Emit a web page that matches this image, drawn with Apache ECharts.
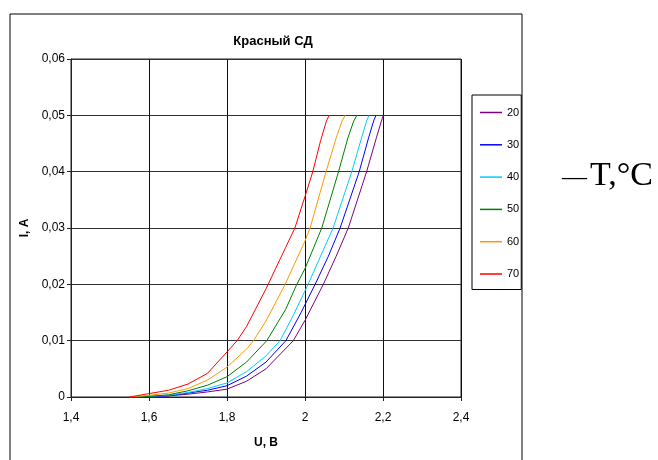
<!DOCTYPE html>
<html>
<head>
<meta charset="utf-8">
<script src="https://cdn.jsdelivr.net/npm/echarts@6/dist/echarts.min.js"></script>
<style>
  html, body { margin: 0; padding: 0; background: #fff; }
  #chart { width: 658px; height: 460px; }
</style>
</head>
<body>
<div id="chart"></div>
<script>
// температуры (легенда)
const temps = ['20', '30', '40', '50', '60', '70'];
const colors = ['#800080', '#0000FF', '#00CCFF', '#008000', '#FF9900', '#FF0000'];

// ВАХ, [U, I]
const iv20 = [[1.55, 0], [1.6, 0.0001], [1.65, 0.0002], [1.7, 0.0005], [1.75, 0.0009], [1.8, 0.0014], [1.85, 0.0028], [1.9, 0.0050], [1.97, 0.010], [2.0, 0.0136], [2.047, 0.020], [2.08, 0.025], [2.111, 0.030], [2.158, 0.040], [2.183, 0.046], [2.196, 0.049], [2.201, 0.050]];
const iv30 = [[1.55, 0], [1.6, 0.0001], [1.65, 0.0002], [1.7, 0.0007], [1.75, 0.0012], [1.8, 0.0020], [1.85, 0.0037], [1.9, 0.0062], [1.951, 0.010], [1.99, 0.0150], [2.026, 0.020], [2.06, 0.025], [2.09, 0.030], [2.139, 0.040], [2.163, 0.046], [2.176, 0.049], [2.182, 0.050]];
const iv40 = [[1.55, 0], [1.6, 0.0001], [1.65, 0.0003], [1.7, 0.0008], [1.75, 0.0015], [1.8, 0.0025], [1.85, 0.0045], [1.9, 0.0073], [1.936, 0.010], [1.97, 0.0145], [2.008, 0.020], [2.04, 0.025], [2.072, 0.030], [2.12, 0.040], [2.145, 0.046], [2.158, 0.049], [2.164, 0.050]];
const iv50 = [[1.55, 0], [1.6, 0.0001], [1.65, 0.0004], [1.7, 0.0011], [1.75, 0.0021], [1.8, 0.0036], [1.85, 0.0062], [1.902, 0.010], [1.95, 0.0155], [1.979, 0.020], [2.0, 0.0228], [2.043, 0.030], [2.086, 0.040], [2.11, 0.046], [2.125, 0.049], [2.133, 0.050]];
const iv60 = [[1.55, 0], [1.6, 0.0003], [1.65, 0.0007], [1.7, 0.0015], [1.75, 0.0030], [1.8, 0.0053], [1.85, 0.0085], [1.868, 0.010], [1.9, 0.0135], [1.949, 0.020], [2.0, 0.0277], [2.013, 0.030], [2.054, 0.040], [2.08, 0.046], [2.095, 0.049], [2.103, 0.050]];
const iv70 = [[1.55, 0], [1.6, 0.0006], [1.65, 0.0012], [1.7, 0.0023], [1.75, 0.0042], [1.8, 0.0080], [1.826, 0.010], [1.85, 0.0125], [1.9, 0.0192], [1.95, 0.0265], [1.974, 0.030], [2.0, 0.0356], [2.02, 0.040], [2.04, 0.0455], [2.055, 0.049], [2.062, 0.050]];
const curves = [iv20, iv30, iv40, iv50, iv60, iv70];

const font = 'Liberation Sans, Arial, sans-serif';
const serif = '"Liberation Serif", "Times New Roman", serif';
const commaFmt = (v, digits) => (v === 0 ? '0' : Number(v.toFixed(digits)).toString().replace('.', ','));

const chart = echarts.init(document.getElementById('chart'), null, { renderer: 'canvas' });

const option = {
  animation: false,
  backgroundColor: '#fff',
  title: {
    text: 'Красный СД',
    left: 268,
    top: 30,
    textAlign: 'center',
    textStyle: { fontFamily: font, fontSize: 13, fontWeight: 'bold', color: '#000' }
  },
  legend: {
    orient: 'vertical',
    left: 472,
    top: 95,
    data: temps,
    icon: 'rect',
    itemWidth: 22,
    itemHeight: 1.5,
    itemGap: 21.3,
    padding: [12, 2, 10, 8],
    borderColor: '#000',
    borderWidth: 1,
    textStyle: { fontFamily: font, fontSize: 11, color: '#000' }
  },
  grid: { left: 71, right: 197, top: 59, bottom: 63, show: true, borderColor: '#222', borderWidth: 1 },
  xAxis: {
    type: 'value',
    min: 1.4,
    max: 2.4,
    interval: 0.2,
    name: 'U, B',
    nameLocation: 'middle',
    nameGap: 40,
    nameTextStyle: { fontFamily: font, fontSize: 12, fontWeight: 'bold', color: '#000' },
    axisLine: { lineStyle: { color: '#222' } },
    axisTick: { show: true, length: 4, lineStyle: { color: '#222' } },
    axisLabel: { fontFamily: font, fontSize: 12, color: '#000', margin: 15, formatter: v => commaFmt(v, 1) },
    splitLine: { show: true, lineStyle: { color: '#111', width: 1 } }
  },
  yAxis: {
    type: 'value',
    min: 0,
    max: 0.06,
    interval: 0.01,
    name: 'I, A',
    nameLocation: 'middle',
    nameGap: 35,
    nameRotate: 90,
    nameTextStyle: { fontFamily: font, fontSize: 12, fontWeight: 'bold', color: '#000' },
    axisLine: { show: true, lineStyle: { color: '#222' } },
    axisTick: { show: true, length: 4, lineStyle: { color: '#222' } },
    axisLabel: { fontFamily: font, fontSize: 12, color: '#000', margin: 6, formatter: v => commaFmt(v, 2) },
    splitLine: { show: true, lineStyle: { color: '#333', width: 1 } }
  },
  series: temps.map((t, i) => ({
    name: t,
    type: 'line',
    data: curves[i],
    symbol: 'none',
    color: colors[i],
    lineStyle: { width: 1, color: colors[i] },
    z: 2 + i
  })),
  graphic: [
    {
      type: 'rect',
      shape: { x: 10, y: 14, width: 512, height: 470 },
      style: { fill: 'none', stroke: '#000', lineWidth: 1 },
      silent: true
    },
    {
      type: 'text',
      left: 562,
      top: 159,
      style: {
        text: '{d|—}{t|T,°C}',
        fill: '#000',
        rich: {
          d: { fontFamily: serif, fontSize: 25, fill: '#000', padding: [4, 3, 0, 0] },
          t: { fontFamily: serif, fontSize: 34, fill: '#000' }
        }
      }
    }
  ]
};

chart.setOption(option);
</script>
</body>
</html>
